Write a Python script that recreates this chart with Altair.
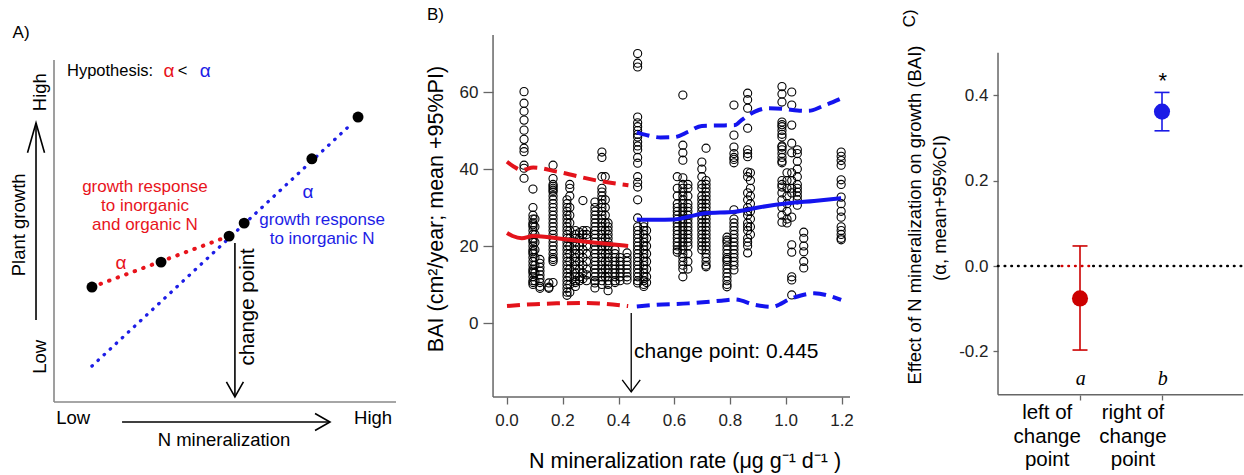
import altair as alt
import pandas as pd

FONT = "Liberation Sans"
SERIF = "Liberation Serif"

RED_A, BLUE_A = "#e8141c", "#1d1de6"
RED_B, BLUE_B = "#e3131b", "#1414ee"
RED_C, BLUE_C = "#cc0000", "#1a1ae6"
GREY = "#666666"

# ============================ Panel A (schematic units) ============================
A_DOT_X = [1.11, 3.13, 5.12, 5.56, 7.54, 8.89]
A_DOT_Y = [3.36, 4.09, 4.85, 5.23, 7.11, 8.33]
A_RED_X = [1.11, 4.90]
A_RED_Y = [3.36, 4.77]
A_BLUE_X = [1.11, 8.60]
A_BLUE_Y = [1.05, 8.04]
# axis lines and arrows (x, x2, y, y2)
A_LINES = {"x": [0, 0, -0.526, 1.99, 5.29], "x2": [0, 10, -0.526, 8.07, 5.29],
           "y": [0, 0, 2.40, -0.585, 4.65], "y2": [10, 0, 8.16, -0.585, 0.15],
           "c": ["#888888", "#888888", "black", "black", "black"]}
A_HEAD_X = [-0.526, 8.07, 5.29]
A_HEAD_Y = [8.16, -0.585, 0.15]
A_HEAD_SHAPE = ["M-1,3.5L0,0L1,3.5", "M-1.76,-1L0,0L-1.76,1", "M-1,-1.76L0,0L1,-1.76"]

# ============================ Panel B (data) ============================
B_COL_X = [0.061, 0.093, 0.100, 0.118, 0.150, 0.165, 0.215, 0.225, 0.245, 0.260, 0.272,
           0.285, 0.315, 0.340, 0.352, 0.362, 0.387, 0.405, 0.430,
           0.468, 0.490, 0.500, 0.610, 0.630, 0.648, 0.698, 0.713, 0.788, 0.813,
           0.862, 0.872, 0.985, 1.003, 1.020, 1.040, 1.063, 1.197]
B_COL_Y = [
    [60.1, 57.1, 55, 52.7, 50.1, 47.7, 45.4, 44.5, 41, 40.2, 37.6],
    [34.8, 30, 28, 27, 26, 25.5, 25, 24, 23, 22, 21.5, 21, 20, 19, 18.5, 18, 17, 16, 15, 14,
     13.5, 13, 12, 11, 10.5, 10],
    [27, 25, 23, 21, 19, 17, 15, 13, 11],
    [16.5, 15.5, 14.5, 13.5, 12.5, 11.5, 10.5, 9.5, 9],
    [10.4, 9.3, 9],
    [41, 37.5, 36, 35.5, 35, 34.5, 34, 33, 32, 31, 30, 29, 28, 27, 26, 25, 24, 23, 22, 21,
     20, 19, 18, 17, 16.5, 16, 10.5],
    [32, 31, 30, 29, 28, 27, 26, 25, 24, 23, 22, 21, 20, 19, 18, 17, 16, 15, 14, 13, 12, 11,
     10, 9, 8, 7.2],
    [36, 35, 33, 30, 28, 26, 24, 22, 20, 18, 16, 14, 12, 10, 8],
    [24, 23, 22, 21, 20, 19, 18, 17, 16, 15, 14, 13, 12, 11, 10.5, 9.5],
    [23.5, 22, 20, 18, 16, 14, 12, 11],
    [31.8, 24, 23, 21, 19, 17, 15, 13, 11.5],
    [24, 23, 22, 20, 18, 16, 14, 12.5, 11],
    [31.4, 30, 29, 28, 27, 26, 25, 24, 23, 22, 21, 20, 19, 18, 17, 16, 15, 14, 13, 12, 11,
     10.4, 9.1],
    [44.4, 43, 38, 35, 34, 33, 32, 31, 30, 29, 28, 27, 26, 25, 24, 23, 22, 21, 20, 19, 18,
     17, 16, 15, 14, 13, 12, 11, 10],
    [38, 32, 30, 28, 26, 24, 22, 20, 18, 16, 14, 12],
    [26, 25, 24, 23, 22, 21, 20, 19, 18, 17, 16, 15, 14, 13, 12, 11, 10, 8.4],
    [19, 18, 17, 16, 15, 14, 13, 12, 11, 10.5],
    [17, 16, 15, 14, 13, 12, 11],
    [18.2, 17, 16, 15, 14, 13, 12, 11.2],
    [70, 67.5, 66.5, 53.5, 52, 51, 50, 49, 48.3, 47, 46, 45, 43, 41.5, 38, 36.5, 35.3, 32,
     27.3, 25, 24, 23, 22, 21, 20, 19, 18, 17, 16, 15, 14, 13, 12, 11, 10.4],
    [26, 25, 24, 23, 22, 21, 20, 19, 18, 17, 16, 15, 14, 13, 12, 11, 10, 9.5],
    [24, 22, 20, 18, 16, 14, 12, 10.5],
    [38, 35, 33, 31, 30, 29, 28, 27, 26, 25, 24, 23, 22, 21, 20, 19, 18.4],
    [59.2, 46.2, 44.2, 42.3, 37.7, 36, 35, 34, 33, 32, 31, 30, 29, 28, 27, 26, 25, 24, 23,
     22, 21, 20, 19, 18, 17, 16, 15, 14, 12],
    [36, 35, 33, 31, 30, 29, 28, 27, 26, 25, 24, 23, 22, 21, 20, 18, 16, 14],
    [41.8, 40, 38, 36, 35, 33, 32, 31, 30, 29, 28, 27, 26, 25, 24, 23, 22, 21, 20, 19],
    [45.4, 37, 36, 35, 34, 33, 32, 31, 30, 29, 28, 27, 26, 25, 24, 23, 22, 21, 20, 19, 18,
     17, 16, 15, 14.6],
    [22.3, 21.5, 21, 20, 19, 18, 17, 16.5, 16, 15, 14, 13, 12, 11, 10, 9.4],
    [56.6, 48.8, 45.7, 44, 43, 42.5, 41.6, 29.4, 27, 26, 25, 24, 23, 22, 21, 20, 19, 18, 17,
     16, 15, 13.8],
    [59.7, 58, 55.8, 50.6, 45, 44, 43.2, 39.2, 38, 33.8, 32, 30, 29, 28, 26, 25, 24, 22, 21,
     20, 18.2],
    [39, 37, 35, 33, 31, 29, 27, 25, 23],
    [61.4, 59.5, 57.4, 52.2, 51.5, 51, 50, 49, 48.3, 46, 45.7, 45, 44, 43, 42, 41.6, 37, 36,
     35.3, 33.8, 32, 30, 28, 26.2],
    [39, 37, 35, 33, 31, 29, 27, 26],
    [60, 56.6, 51.4, 46.7, 44.2, 39, 37, 35, 33.8, 27.5, 20.3, 18.4, 12, 11.2, 7.3],
    [45, 44, 42, 40, 38, 36, 35, 34, 33, 32, 30.6],
    [23.6, 22, 20, 18.5, 16, 14.3],
    [44.4, 43.3, 42.2, 41, 37.2, 36, 32.7, 31, 29, 27.5, 25, 24, 23, 22, 21.6],
]

B_RED_MEAN_X = [0.0, 0.02, 0.053, 0.094, 0.2, 0.3, 0.434]
B_RED_MEAN_Y = [23.4, 22.6, 22.0, 22.6, 21.8, 21.0, 20.0]
B_RED_UP_X = [0.0, 0.025, 0.053, 0.094, 0.18, 0.33, 0.435]
B_RED_UP_Y = [41.9, 40.6, 39.7, 40.4, 39.3, 36.9, 35.8]
B_RED_LO_X = [0.0, 0.1, 0.178, 0.286, 0.434]
B_RED_LO_Y = [4.4, 4.9, 5.1, 5.2, 4.4]
B_BLUE_MEAN_X = [0.465, 0.53, 0.6, 0.65, 0.709, 0.817, 0.9, 1.007, 1.1, 1.197]
B_BLUE_MEAN_Y = [26.9, 26.8, 26.9, 27.6, 28.5, 28.9, 30.0, 31.1, 31.7, 32.4]
B_BLUE_UP_X = [0.465, 0.5, 0.55, 0.6, 0.65, 0.698, 0.76, 0.817, 0.84, 0.888, 0.935, 0.996,
               1.04, 1.08, 1.13, 1.197]
B_BLUE_UP_Y = [49.5, 48.8, 48.2, 48.3, 49.7, 51.2, 51.3, 51.4, 52.7, 54.9, 55.8, 55.6,
               55.2, 55.1, 56.3, 58.3]
B_BLUE_LO_X = [0.465, 0.53, 0.65, 0.768, 0.817, 0.888, 0.947, 1.02, 1.1, 1.197]
B_BLUE_LO_Y = [4.3, 4.7, 5.1, 5.8, 6.1, 4.7, 4.2, 6.4, 7.7, 6.0]
B_CHANGE_POINT = 0.445
B_XLIM = [-0.05, 1.2287]
B_YLIM = [-19.2, 74.8]
B_XTICKS = [0, 0.2, 0.4, 0.6, 0.8, 1.0, 1.2]
B_XTICK_LABELS = ["0.0", "0.2", "0.4", "0.6", "0.8", "1.0", "1.2"]

# ============================ Panel C (estimates) ============================
C_GROUP = [1, 2]
C_MEAN = [-0.076, 0.362]
C_LO = [-0.197, 0.317]
C_HI = [0.047, 0.407]
C_COL = [RED_C, BLUE_C]
C_ZERO_X = [0, 0.777, 1.162]
C_ZERO_X2 = [0.777, 1.162, 2.98]
C_ZERO_COL = ["black", RED_C, "black"]


def make_enc(xdom, ydom, xaxis=None, yaxis=None):
    xs = alt.Scale(domain=xdom, nice=False, zero=False)
    ys = alt.Scale(domain=ydom, nice=False, zero=False)
    X = lambda: alt.X("x:Q", scale=xs, axis=xaxis)
    Y = lambda: alt.Y("y:Q", scale=ys, axis=yaxis)
    return X, Y


def text_layer(X, Y, xs, ys, labels, size=17, color="black", angle=0, align="center",
               font=FONT, style="normal", lh=None):
    df = pd.DataFrame({"x": xs, "y": ys, "t": labels})
    kw = dict(font=font, fontSize=size, color=color, angle=angle, align=align,
              baseline="middle", fontStyle=style)
    if lh:
        kw.update(lineBreak="\n", lineHeight=lh)
    return alt.Chart(df).mark_text(**kw).encode(x=X(), y=Y(), text="t:N")


def rule_layer(X, Y, df, width=1.5, dash=None, cap="butt"):
    kw = dict(strokeWidth=width, strokeCap=cap)
    if dash:
        kw["strokeDash"] = dash
    return alt.Chart(df).mark_rule(**kw).encode(
        x=X(), x2="x2:Q", y=Y(), y2="y2:Q", color=alt.Color("c:N", scale=None))


# ---------------- Panel A ----------------
AX, AY = make_enc([-1.579, 10.117], [-2.135, 11.754])
a_layers = []
a_layers.append(rule_layer(AX, AY, pd.DataFrame(A_LINES), width=1.6))
a_layers.append(alt.Chart(pd.DataFrame({"x": A_HEAD_X, "y": A_HEAD_Y, "s": A_HEAD_SHAPE}))
                .mark_point(filled=False, color="black", strokeWidth=1.6, size=289, opacity=1)
                .encode(x=AX(), y=AY(), shape=alt.Shape("s:N", scale=None)))
a_layers.append(alt.Chart(pd.DataFrame({"x": A_BLUE_X, "y": A_BLUE_Y}))
                .mark_line(color=BLUE_A, strokeWidth=3.3, strokeDash=[0.5, 7.8], strokeCap="round")
                .encode(x=AX(), y=AY()))
a_layers.append(alt.Chart(pd.DataFrame({"x": A_RED_X, "y": A_RED_Y}))
                .mark_line(color=RED_A, strokeWidth=4.0, strokeDash=[0.5, 8.6], strokeCap="round")
                .encode(x=AX(), y=AY()))
a_layers.append(alt.Chart(pd.DataFrame({"x": A_DOT_X, "y": A_DOT_Y}))
                .mark_circle(size=120, color="black", opacity=1).encode(x=AX(), y=AY()))
a_layers.append(text_layer(AX, AY, [-1.21], [10.79], ["A)"], size=17, align="left"))
a_layers.append(text_layer(AX, AY, [0.38], [9.68], ["Hypothesis:"], size=16.5, align="left"))
a_layers.append(text_layer(AX, AY, [3.36], [9.68], ["α"], size=19, color=RED_A))
a_layers.append(text_layer(AX, AY, [3.76], [9.68], ["<"], size=16.5))
a_layers.append(text_layer(AX, AY, [4.42], [9.68], ["α"], size=19, color=BLUE_A))
a_layers.append(text_layer(AX, AY, [2.66], [6.29], ["growth response\nto inorganic\nand organic N"],
                           size=17, color=RED_A, lh=19))
a_layers.append(text_layer(AX, AY, [7.84], [5.32], ["growth response\nto inorganic N"],
                           size=17, color=BLUE_A, lh=19))
a_layers.append(text_layer(AX, AY, [1.96], [4.06], ["α"], size=19, color=RED_A))
a_layers.append(text_layer(AX, AY, [7.43], [6.14], ["α"], size=19, color=BLUE_A))
a_layers.append(text_layer(AX, AY, [5.67], [2.78], ["change point"], size=20.5, angle=270))
a_layers.append(text_layer(AX, AY, [-0.41, -0.41, -1.02], [1.32, 9.06, 5.18],
                           ["Low", "High", "Plant growth"], size=18.5, angle=270))
a_layers.append(text_layer(AX, AY, [0.56, 9.33, 4.97], [-0.47, -0.47, -1.11],
                           ["Low", "High", "N mineralization"], size=18.5))
panelA = alt.layer(*a_layers).properties(width=400, height=475)

# ---------------- Panel B ----------------
bx_axis = alt.Axis(values=B_XTICKS, labels=False, title=None,
                   grid=False, domain=False, offset=-78, tickSize=7, tickWidth=1.3,
                   tickColor=GREY)
by_axis = alt.Axis(values=[0, 20, 40, 60], title=None, grid=False, domain=False, offset=-93,
                   tickSize=10, tickWidth=1.3, tickColor=GREY, labelFont=FONT,
                   labelFontSize=17, labelColor="#222222", labelPadding=5)
BX, BY = make_enc([-0.3833, 1.2287], [-39.48, 83.90], bx_axis, by_axis)

pts = [(x, y) for x, ys in zip(B_COL_X, B_COL_Y) for y in ys]
b_pts = pd.DataFrame(pts, columns=["x", "y"])


def series_df(pairs):
    rows = []
    for name, col, xs, ys in pairs:
        for i, (x, y) in enumerate(zip(xs, ys)):
            rows.append({"x": x, "y": y, "s": name, "c": col, "o": i})
    return pd.DataFrame(rows)


b_mean = series_df([("rm", RED_B, B_RED_MEAN_X, B_RED_MEAN_Y),
                    ("bm", BLUE_B, B_BLUE_MEAN_X, B_BLUE_MEAN_Y)])
b_band = series_df([("ru", RED_B, B_RED_UP_X, B_RED_UP_Y),
                    ("rl", RED_B, B_RED_LO_X, B_RED_LO_Y),
                    ("bu", BLUE_B, B_BLUE_UP_X, B_BLUE_UP_Y),
                    ("bl", BLUE_B, B_BLUE_LO_X, B_BLUE_LO_Y)])

b_layers = []
b_layers.append(rule_layer(BX, BY, pd.DataFrame({
    "x": [B_XLIM[0], B_XLIM[0]], "x2": [B_XLIM[0], B_XLIM[1]],
    "y": [B_YLIM[0], B_YLIM[0]], "y2": [B_YLIM[1], B_YLIM[0]], "c": [GREY, GREY]}), width=1.5))
b_layers.append(alt.Chart(b_pts).mark_point(shape="circle", filled=False, size=66, color="black",
                                            strokeWidth=1.1, opacity=1).encode(x=BX(), y=BY()))
b_layers.append(alt.Chart(b_mean).mark_line(strokeWidth=4, interpolate="monotone").encode(
    x=BX(), y=BY(), detail="s:N", order="o:Q", color=alt.Color("c:N", scale=None)))
b_layers.append(alt.Chart(b_band).mark_line(strokeWidth=4, strokeDash=[13, 7],
                                            interpolate="monotone").encode(
    x=BX(), y=BY(), detail="s:N", order="o:Q", color=alt.Color("c:N", scale=None)))
b_layers.append(rule_layer(BX, BY, pd.DataFrame({
    "x": [B_CHANGE_POINT], "x2": [B_CHANGE_POINT], "y": [2.6], "y2": [-17.9], "c": ["black"]}),
    width=1.3))
b_layers.append(alt.Chart(pd.DataFrame({"x": [B_CHANGE_POINT], "y": [-17.9]}))
                .mark_point(shape="M-1,-1.33L0,0L1,-1.33", filled=False, color="black",
                            strokeWidth=1.4, size=324, opacity=1).encode(x=BX(), y=BY()))
b_layers.append(text_layer(BX, BY, B_XTICKS, [-25.4] * len(B_XTICKS), B_XTICK_LABELS,
                           size=17, color="#222222"))
b_layers.append(text_layer(BX, BY, [0.455], [-7.5], ["change point: 0.445"], size=21,
                           align="left"))
b_layers.append(text_layer(BX, BY, [-0.2866], [80.0], ["B)"], size=17, align="left"))
b_layers.append(text_layer(BX, BY, [-0.2507], [29.6], ["BAI (cm²/year; mean +95%PI)"],
                           size=21.5, angle=270))
b_layers.append(text_layer(BX, BY, [0.638], [-36.1], ["N mineralization rate (μg g⁻¹ d⁻¹ )"],
                           size=21.5))
panelB = alt.layer(*b_layers).properties(width=450, height=475)

# ---------------- Panel C ----------------
C_YSCALE = alt.Scale(domain=[-0.49, 0.6237], nice=False, zero=False)
cx_axis = alt.Axis(values=[1, 2], labels=False, title=None, grid=False, domain=False,
                   offset=-80, tickSize=5, tickWidth=1.3, tickColor=GREY)
cy_axis = alt.Axis(values=[-0.2, 0, 0.2, 0.4], title=None, grid=False, domain=False,
                   offset=-148, tickSize=5, tickWidth=1.3, tickColor=GREY,
                   labelExpr="datum.value < 0 ? '-' + format(-datum.value, '.1f') : format(datum.value, '.1f')",
                   labelFont=FONT, labelFontSize=17, labelColor="#222222", labelPadding=5)
CX, CY = make_enc([-1.805, 3.0], [-0.49, 0.6237], cx_axis, cy_axis)

c_est = pd.DataFrame({"x": C_GROUP, "y": C_MEAN, "lo": C_LO, "hi": C_HI, "c": C_COL})
c_layers = []
c_layers.append(rule_layer(CX, CY, pd.DataFrame({
    "x": [0, 0], "x2": [0, 2.99], "y": [-0.302, -0.302], "y2": [0.5, -0.302],
    "c": [GREY, GREY]}), width=1.5))
c_layers.append(rule_layer(CX, CY, pd.DataFrame({
    "x": C_ZERO_X, "x2": C_ZERO_X2, "y": [0, 0, 0], "y2": [0, 0, 0], "c": C_ZERO_COL}),
    width=2.6, dash=[0.5, 6.2], cap="round"))
c_layers.append(alt.Chart(c_est).mark_rule(strokeWidth=1.6).encode(
    x=CX(), y=alt.Y("lo:Q", scale=C_YSCALE, axis=cy_axis), y2="hi:Q",
    color=alt.Color("c:N", scale=None)))
for f in ["lo", "hi"]:
    c_layers.append(alt.Chart(c_est).mark_tick(orient="horizontal", size=15, thickness=1.6,
                                               opacity=1).encode(
        x=CX(), y=alt.Y(f"{f}:Q", scale=C_YSCALE, axis=cy_axis),
        color=alt.Color("c:N", scale=None)))
c_layers.append(alt.Chart(c_est).mark_circle(size=260, opacity=1).encode(
    x=CX(), y=CY(), color=alt.Color("c:N", scale=None)))
c_layers.append(text_layer(CX, CY, [2.01], [0.434], ["*"], size=22))
c_layers.append(text_layer(CX, CY, [1.01, 2.01], [-0.265, -0.265], ["a", "b"], size=20,
                           font=SERIF, style="italic"))
c_layers.append(text_layer(CX, CY, [0.6, 1.646], [-0.3447, -0.3447],
                           ["left of\nchange\npoint", "right of\nchange\npoint"], size=20.5,
                           lh=23.5))
c_layers.append(text_layer(CX, CY, [-1.073], [0.581], ["C)"], size=17, angle=270))
c_layers.append(text_layer(CX, CY, [-1.012], [0.1196],
                           ["Effect of N mineralization on growth (BAI)"], size=18.5, angle=270))
c_layers.append(text_layer(CX, CY, [-0.707], [0.136], ["(α, mean+95%CI)"], size=18.5,
                           angle=270))
panelC = alt.layer(*c_layers).properties(width=394, height=475)

chart = (alt.hconcat(panelA, panelB, panelC, spacing=0, bounds="flush")
         .properties(padding=0, background="white")
         .configure_view(stroke=None))

chart.save("out.html", embed_options={"renderer": "svg", "actions": False})
